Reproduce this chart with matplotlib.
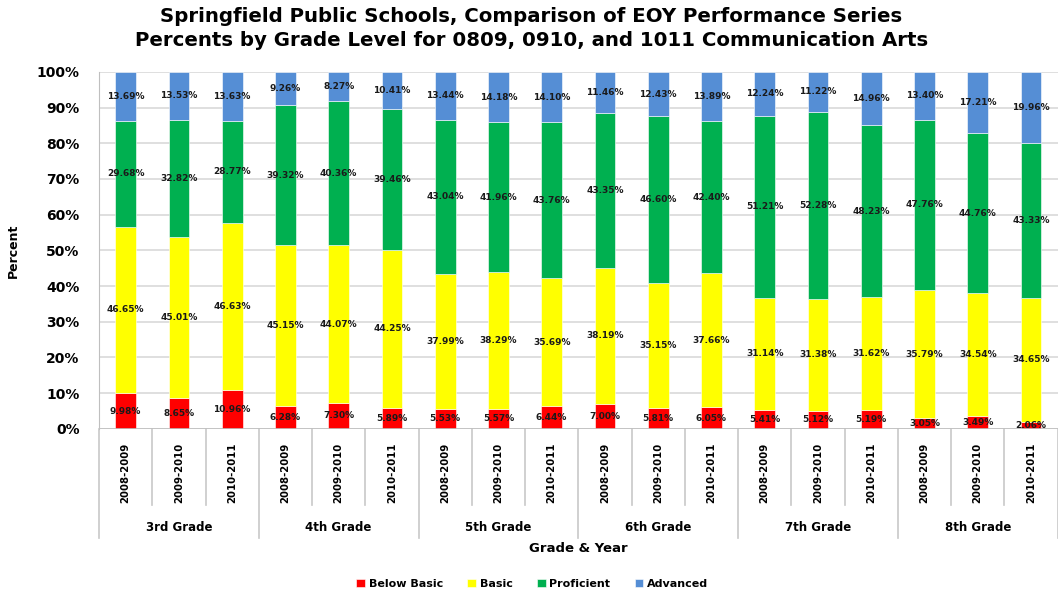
import numpy as np
import matplotlib.pyplot as plt
from matplotlib.transforms import blended_transform_factory

grades = ["3rd Grade", "4th Grade", "5th Grade", "6th Grade", "7th Grade", "8th Grade"]
years = ["2008-2009", "2009-2010", "2010-2011"]

below_basic = [9.98, 8.65, 10.96, 6.28, 7.30, 5.89, 5.53, 5.57, 6.44,
               7.00, 5.81, 6.05, 5.41, 5.12, 5.19, 3.05, 3.49, 2.06]
basic = [46.65, 45.01, 46.63, 45.15, 44.07, 44.25, 37.99, 38.29, 35.69,
         38.19, 35.15, 37.66, 31.14, 31.38, 31.62, 35.79, 34.54, 34.65]
proficient = [29.68, 32.82, 28.77, 39.32, 40.36, 39.46, 43.04, 41.96, 43.76,
              43.35, 46.60, 42.40, 51.21, 52.28, 48.23, 47.76, 44.76, 43.33]
advanced = [13.69, 13.53, 13.63, 9.26, 8.27, 10.41, 13.44, 14.18, 14.10,
            11.46, 12.43, 13.89, 12.24, 11.22, 14.96, 13.40, 17.21, 19.96]

series = [("Below Basic", below_basic, "#FF0000"),
          ("Basic", basic, "#FFFF00"),
          ("Proficient", proficient, "#00B050"),
          ("Advanced", advanced, "#558ED5")]

fig = plt.figure(figsize=(10.58, 5.94), dpi=100)
ax = fig.add_axes([0.0936, 0.278, 0.906, 0.601])

x = np.arange(len(below_basic))
bottom = np.zeros(len(x))
for name, vals, col in series:
    vals = np.array(vals)
    ax.bar(x, vals, 0.39, bottom=bottom, color=col, label=name,
           edgecolor="white", linewidth=0.4, zorder=3)
    for xi, b, v in zip(x, bottom, vals):
        ax.text(xi, b + v / 2, "%.2f%%" % v, ha="center", va="center",
                fontsize=6.5, fontweight="bold", color="#1a1a1a", zorder=4)
    bottom += vals

ax.set_xlim(-0.5, len(x) - 0.5)
ax.set_ylim(0, 100)
ax.set_yticks(np.arange(0, 101, 10))
ax.set_yticklabels(["%d%%" % v for v in range(0, 101, 10)],
                   fontsize=10, fontweight="bold")
ax.yaxis.grid(True, color="#D9D9D9", linewidth=1.2, zorder=0)
ax.tick_params(axis="y", length=0, pad=14)
for s in ["top", "right", "bottom"]:
    ax.spines[s].set_visible(False)
ax.spines["left"].set_color("#BFBFBF")
ax.axhline(0, color="#BFBFBF", linewidth=1.2, zorder=5)

# year labels
ax.set_xticks(x)
ax.set_xticklabels(years * len(grades), rotation=90, fontsize=7.3,
                   fontweight="bold")
ax.tick_params(axis="x", length=0, pad=10)

# hierarchical separators and grade labels
trans = blended_transform_factory(ax.transData, ax.transAxes)
for i in range(len(x) + 1):
    edge = i - 0.5
    ybot = -0.305 if i % 3 == 0 else -0.213
    ax.plot([edge, edge], [0, ybot], transform=trans, color="#C8C8C8",
            linewidth=1.2, clip_on=False)
for g, name in enumerate(grades):
    ax.text(g * 3 + 1, -0.275, name, transform=trans, ha="center",
            va="center", fontsize=8.5, fontweight="bold")

ax.text(0.5, -0.336, "Grade & Year", transform=ax.transAxes, ha="center",
        va="center", fontsize=9.5, fontweight="bold")
ax.set_ylabel("Percent", fontsize=9, fontweight="bold", labelpad=12)

fig.text(0.502, 0.988, "Springfield Public Schools, Comparison of EOY Performance Series\n"
         "Percents by Grade Level for 0809, 0910, and 1011 Communication Arts",
         ha="center", va="top", fontsize=14.2, fontweight="bold", linespacing=1.3)

leg = fig.legend(loc="center", bbox_to_anchor=(0.503, 0.017), ncol=4,
                 frameon=False, prop={"weight": "bold", "size": 8},
                 handlelength=0.8, handleheight=0.8, handletextpad=0.3,
                 columnspacing=2.2)

plt.savefig("out.png", dpi=100)
